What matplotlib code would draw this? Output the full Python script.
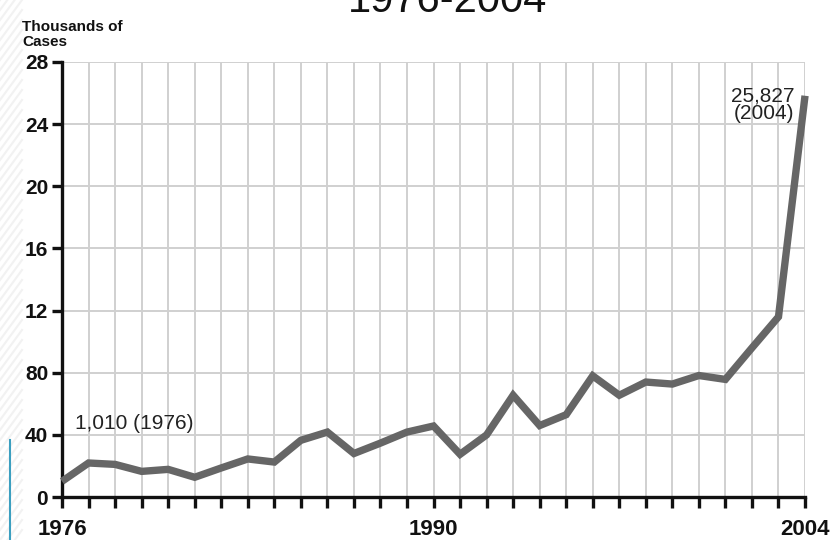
import matplotlib.pyplot as plt
from matplotlib.lines import Line2D

plt.rcParams['font.family'] = ['Liberation Sans Narrow', 'Liberation Sans', 'DejaVu Sans']

# cases per year, in thousands
years = list(range(1976, 2005))
cases = [1.01, 2.19, 2.10, 1.65, 1.78, 1.27, 1.87, 2.45, 2.25, 3.65,
         4.18, 2.80, 3.47, 4.18, 4.57, 2.75, 4.00, 6.55, 4.60, 5.30,
         7.80, 6.55, 7.40, 7.27, 7.82, 7.57, 9.60, 11.60, 25.827]

y_ticks = [0, 4, 8, 12, 16, 20, 24, 28]
y_labels = ['0', '40', '80', '12', '16', '20', '24', '28']
x_labels = {1976: '1976', 1990: '1990', 2004: '2004'}

fig = plt.figure(figsize=(8.37, 5.40), dpi=100)
ax = fig.add_axes([0.0741, 0.0796, 0.8877, 0.8056])

ax.plot(years, cases, color='#666666', lw=5.3, solid_joinstyle='miter',
        solid_capstyle='butt', clip_on=False, zorder=3)

ax.set_xlim(1976, 2004)
ax.set_ylim(0, 28)
ax.set_xticks(years)
ax.set_xticklabels([x_labels.get(y, '') for y in years])
ax.set_yticks(y_ticks)
ax.set_yticklabels(y_labels)

# light grid on every year and every 4k
ax.grid(True, color='#d0d0d0', lw=1.4, zorder=0)
ax.set_axisbelow(True)

for s in ['top', 'right']:
    ax.spines[s].set_visible(False)
for s in ['left', 'bottom']:
    ax.spines[s].set_linewidth(2.4)
    ax.spines[s].set_color('#111111')

ax.tick_params(axis='x', direction='out', length=8, width=2.4, color='#111111',
               labelsize=16, pad=8)
ax.tick_params(axis='y', direction='out', length=7, width=2.4, color='#111111',
               labelsize=15, pad=3)
for lab in ax.get_xticklabels() + ax.get_yticklabels():
    lab.set_fontweight('bold')
    lab.set_color('#111111')

# value callouts
ax.text(1976.5, 4.4, '1,010 (1976)', fontsize=15, color='#222222', va='baseline')
ax.text(2003.6, 24.3, '25,827\n(2004)', fontsize=15, color='#222222',
        ha='right', va='baseline', linespacing=0.9)

# header text
fig.text(0.535, 1 - 12 / 540, '1976-2004', fontsize=30, ha='center',
         va='baseline', color='#111111')
fig.text(22 / 837, 1 - 46 / 540, 'Thousands of\nCases', fontsize=11,
         fontweight='bold', color='#111111', va='baseline', linespacing=1.1)

# faint diagonal pattern on the left edge and the blue rule
for k in range(-2, 60):
    y0 = k * 10 / 540
    fig.add_artist(Line2D([0, 22 / 837], [y0, y0 + 30 / 540], color='#f2f2f2',
                          lw=1.5, zorder=-5))
fig.add_artist(Line2D([10 / 837, 10 / 837], [0, 100 / 540], color='#3a9fc0', lw=1.5))

fig.savefig('out.png', dpi=100)
